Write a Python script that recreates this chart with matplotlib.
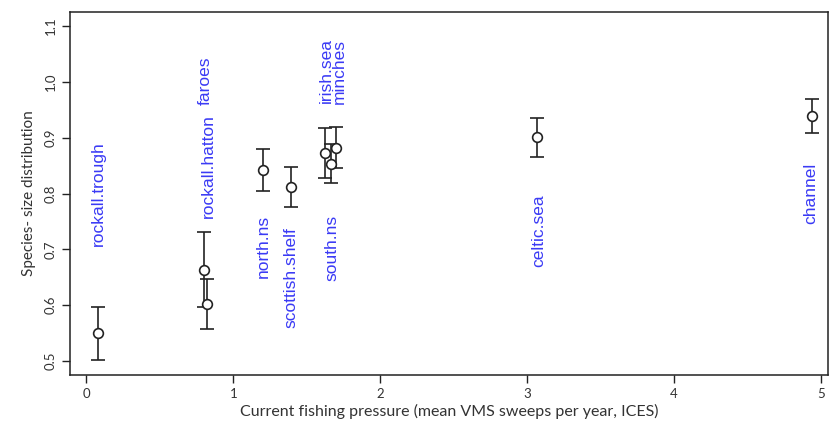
import matplotlib
matplotlib.use("Agg")
import matplotlib.pyplot as plt

# data
regions = ["rockall.trough", "rockall.hatton", "faroes", "north.ns", "scottish.shelf",
           "irish.sea", "south.ns", "minches", "celtic.sea", "channel"]
pressure = [0.08, 0.80, 0.82, 1.20, 1.39, 1.625, 1.665, 1.70, 3.07, 4.94]
ssd = [0.550, 0.663, 0.603, 0.842, 0.812, 0.872, 0.853, 0.882, 0.901, 0.939]
ssd_lo = [0.502, 0.596, 0.558, 0.805, 0.775, 0.827, 0.818, 0.846, 0.866, 0.909]
ssd_hi = [0.597, 0.731, 0.647, 0.880, 0.848, 0.917, 0.888, 0.919, 0.935, 0.970]

# label positions (x, y centre) for the rotated region names
label_x = [0.08, 0.83, 0.81, 1.205, 1.395, 1.635, 1.67, 1.72, 3.08, 4.93]
label_y = [0.800, 0.849, 1.002, 0.705, 0.649, 1.021, 0.702, 1.019, 0.733, 0.801]

fig = plt.figure(figsize=(8.3, 4.26), dpi=100)
ax = fig.add_axes([0.0843, 0.1197, 0.9133, 0.8521])

yerr = [[s - lo for s, lo in zip(ssd, ssd_lo)], [hi - s for s, hi in zip(ssd, ssd_hi)]]
ax.errorbar(pressure, ssd, yerr=yerr, fmt='o', mfc='white', mec='#222222', ms=7,
            mew=1.2, ecolor='#222222', elinewidth=1.2, capsize=4.7, capthick=1.2)

for name, lx, ly in zip(regions, label_x, label_y):
    ax.text(lx, ly, name, rotation=90, ha='center', va='center', color='#3a3af5',
            fontsize=12.5, family='Liberation Sans')

ax.set_xlim(-0.112, 5.05)
ax.set_ylim(0.475, 1.125)
ax.set_xticks([0, 1, 2, 3, 4, 5])
ax.set_yticks([0.5, 0.6, 0.7, 0.8, 0.9, 1.0, 1.1])
ax.set_yticklabels(['0.5', '0.6', '0.7', '0.8', '0.9', '1.0', '1.1'], rotation=90, va='center')
ax.tick_params(direction='out', length=6, width=1, colors='#222222', labelcolor='#333333',
               labelsize=9.5)
for lab in ax.get_xticklabels() + ax.get_yticklabels():
    lab.set_family('Lato')
for sp in ax.spines.values():
    sp.set_linewidth(1.1)
    sp.set_color('#222222')

ax.set_xlabel('Current fishing pressure (mean VMS sweeps per year, ICES)', fontsize=11.5,
              family='Lato', color='#333333', labelpad=3)
ax.set_ylabel('Species- size distribution', fontsize=11, family='Lato', color='#333333',
              labelpad=6)

fig.savefig('out.png', dpi=100)
